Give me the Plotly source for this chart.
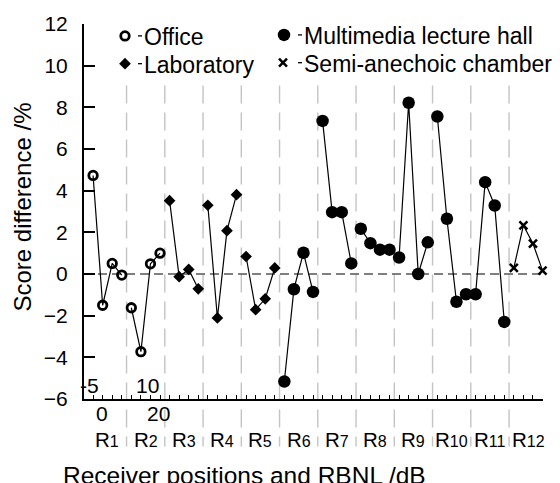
import plotly.graph_objects as go

# ---- data ----
receivers = ["R1", "R2", "R3", "R4", "R5", "R6", "R7", "R8", "R9", "R10", "R11", "R12"]
points_per_receiver = 4

office = [[4.73, -1.50, 0.51, -0.05],
          [-1.62, -3.73, 0.49, 1.00]]
laboratory = [[3.52, -0.13, 0.22, -0.71],
              [3.30, -2.11, 2.08, 3.81],
              [0.84, -1.71, -1.19, 0.29]]
multimedia = [[-5.16, -0.73, 1.02, -0.86],
              [7.35, 2.97, 2.97, 0.51],
              [2.17, 1.48, 1.17, 1.17],
              [0.79, 8.22, 0.00, 1.52],
              [7.56, 2.65, -1.33, -0.97],
              [-0.97, 4.41, 3.29, -2.30]]
semi_anechoic = [[0.29, 2.33, 1.46, 0.16]]

series_names = ["Office", "Laboratory", "Multimedia lecture hall", "Semi-anechoic chamber"]
series_data = [office, laboratory, multimedia, semi_anechoic]

y_ticks = [-6, -4, -2, 0, 2, 4, 6, 8, 10, 12]
stray_labels = ["-5", "10", "0", "20"]

FONT = "Liberation Sans, Arial, sans-serif"

marker_styles = [
    dict(symbol="circle-open", size=8.5, color="black", line=dict(width=2.8, color="black")),
    dict(symbol="diamond", size=9, color="black"),
    dict(symbol="circle", size=12.5, color="black"),
    dict(symbol="x-thin", size=8, color="black", line=dict(width=2.5, color="black")),
]

fig = go.Figure()

start = 0
for name, groups, ms in zip(series_names, series_data, marker_styles):
    xs, ys = [], []
    for g in groups:
        for j, v in enumerate(g):
            xs.append(start * points_per_receiver + j)
            ys.append(v)
        xs.append(None)
        ys.append(None)
        start += 1
    fig.add_trace(go.Scatter(x=xs, y=ys, mode="lines+markers", name=name,
                             line=dict(color="black", width=1.2),
                             marker=ms, showlegend=False, connectgaps=False,
                             cliponaxis=False))

# ---- manual legend (overlay axes in paper-like units) ----
W, H = 560, 483
ml, mr, mt, mb = 84, 17, 21, 84
pw, ph = W - ml - mr, H - mt - mb


def px2x(px):
    return (px - ml) / pw


def px2y(py):
    return (H - mb - py) / ph


leg_pos = [(125, 33, 145), (125, 61, 145), (284, 32, 305), (283, 60, 305)]
for (mx, my, tx), name, ms in zip(leg_pos, series_names, marker_styles):
    fig.add_trace(go.Scatter(x=[px2x(mx)], y=[px2y(my)], mode="markers", marker=ms,
                             xaxis="x2", yaxis="y2", showlegend=False, hoverinfo="skip"))
    fig.add_shape(type="line", xref="paper", yref="paper",
                  x0=px2x(tx - 7), x1=px2x(tx - 3), y0=px2y(my), y1=px2y(my),
                  line=dict(color="black", width=1.3))
    fig.add_annotation(x=px2x(tx - 3), y=px2y(my + 1), xref="paper", yref="paper",
                       text=name, showarrow=False, xanchor="left", yanchor="middle",
                       font=dict(size=23, color="black", family=FONT))

n_total = len(receivers) * points_per_receiver

# ---- separators between receivers ----
for k in range(1, len(receivers)):
    xv = k * points_per_receiver - 0.5
    fig.add_shape(type="line", xref="x", yref="paper", x0=xv, x1=xv,
                  y0=px2y(83), y1=px2y(447),
                  line=dict(color="#c4c4c4", width=1.4, dash="18px,9px"), layer="below")

# zero line
fig.add_shape(type="line", xref="paper", yref="y", x0=0, x1=1.005, y0=0, y1=0,
              line=dict(color="black", width=1.2, dash="9px,5px"), layer="below")

# receiver labels
for k, r in enumerate(receivers):
    xc = k * points_per_receiver + (points_per_receiver - 1) / 2
    txt = f"R<span style='font-size:16px'>{r[1:]}</span>"
    fig.add_annotation(x=xc, y=px2y(440), xref="x", yref="paper", text=txt,
                       showarrow=False, xanchor="center", yanchor="middle",
                       font=dict(size=20.5, color="black", family=FONT))

# stray labels from the original chart
stray_pos = [(89.5, 385), (147, 385), (101.5, 413.5), (158, 413.5)]
for t, (sx, sy) in zip(stray_labels, stray_pos):
    fig.add_annotation(x=px2x(sx), y=px2y(sy), xref="paper", yref="paper", text=t,
                       showarrow=False, xanchor="center", yanchor="middle",
                       font=dict(size=21, color="black", family=FONT))

# axis titles
fig.add_annotation(x=px2x(244.5), y=px2y(476), xref="paper", yref="paper",
                   text="Receiver positions and RBNL /dB", showarrow=False,
                   xanchor="center", yanchor="middle",
                   font=dict(size=24.5, color="black", family=FONT))
fig.add_annotation(x=px2x(23), y=px2y(206), xref="paper", yref="paper",
                   text="Score difference /%", showarrow=False, textangle=-90,
                   xanchor="center", yanchor="middle",
                   font=dict(size=24, color="black", family=FONT))

fig.update_layout(
    width=W, height=H,
    margin=dict(l=ml, r=mr, t=mt, b=mb),
    paper_bgcolor="white", plot_bgcolor="white",
    font=dict(family=FONT, color="black"),
    xaxis=dict(range=[-0.95, n_total - 1 + 0.05], showgrid=False, zeroline=False,
               showline=True, linecolor="black", linewidth=2,
               ticks="inside", ticklen=4, tickwidth=1.3, tickcolor="black",
               tickvals=list(range(n_total)), showticklabels=False),
    yaxis=dict(range=[-6, 12], tickvals=y_ticks, showgrid=False, zeroline=False,
               showline=True, linecolor="black", linewidth=2,
               ticks="inside", ticklen=11, tickwidth=1.5, tickcolor="black",
               ticklabelstandoff=10,
               tickfont=dict(size=21, family=FONT, color="black")),
    xaxis2=dict(range=[0, 1], overlaying="x", visible=False),
    yaxis2=dict(range=[0, 1], overlaying="y", visible=False),
    showlegend=False,
)

fig.write_html("out.html", config={"displayModeBar": False},
               post_script="document.body.style.margin='0px';")
